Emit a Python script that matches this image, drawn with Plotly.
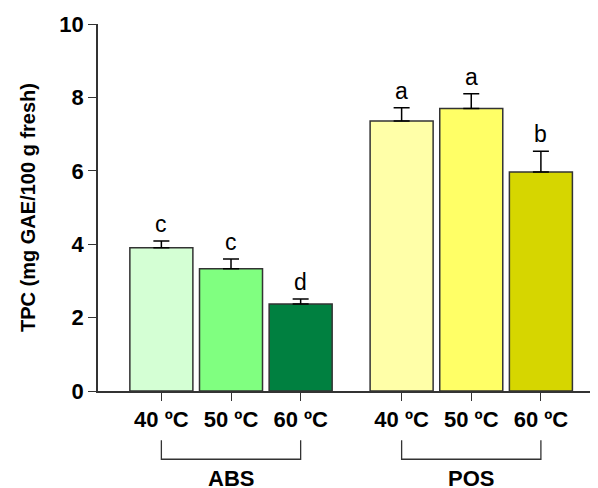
import plotly.graph_objects as go

groups = ["ABS", "POS"]
temps = ["40 ºC", "50 ºC", "60 ºC"]
abs_values = [3.90, 3.33, 2.37]
abs_errors = [0.19, 0.27, 0.14]
pos_values = [7.36, 7.70, 5.97]
pos_errors = [0.36, 0.40, 0.56]
abs_letters = ["c", "c", "d"]
pos_letters = ["a", "a", "b"]
abs_colors = ["#d4ffd4", "#80ff80", "#008040"]
pos_colors = ["#ffffa8", "#ffff66", "#d6d600"]

group_gap = 1.45
abs_x = [0, 1, 2]
pos_x = [2 + group_gap + i for i in range(3)]
xs = abs_x + pos_x
values = abs_values + pos_values
errors = abs_errors + pos_errors
letters = abs_letters + pos_letters
colors = abs_colors + pos_colors
ticktext = temps + temps

x_min, x_max = -0.91, 6.27

fig = go.Figure()
fig.add_trace(go.Bar(
    x=xs, y=values, width=0.905,
    marker=dict(color=colors, line=dict(color="#333333", width=1.5)),
    error_y=dict(type="data", array=errors, arrayminus=[0]*len(errors), symmetric=False,
                 color="black", thickness=1.5, width=8),
    showlegend=False,
))

font_main = "Liberation Sans, Arial, sans-serif"
annotations = []
for x, v, e, l in zip(xs, values, errors, letters):
    annotations.append(dict(x=x, y=v + e, xref="x", yref="y", text=l, showarrow=False,
                            yanchor="bottom", yshift=2,
                            font=dict(family=font_main, size=23, color="black")))

shapes = []
def px(xv):
    return (xv - x_min) / (x_max - x_min)

for name, gx in zip(groups, [abs_x, pos_x]):
    x0, x1 = px(gx[0]), px(gx[-1])
    y_top, y_bot = -0.134, -0.186
    shapes.append(dict(type="path", xref="paper", yref="paper",
                       path=f"M {x0} {y_top} L {x0} {y_bot} L {x1} {y_bot} L {x1} {y_top}",
                       line=dict(color="#333333", width=1.3)))
    annotations.append(dict(x=(gx[0] + gx[-1]) / 2, y=-0.2, xref="x", yref="paper",
                            text=f"<b>{name}</b>", showarrow=False, yanchor="top",
                            font=dict(family=font_main, size=22, color="black")))

fig.update_layout(
    width=590, height=480,
    margin=dict(l=90, r=0, t=16, b=97),
    paper_bgcolor="white", plot_bgcolor="white",
    annotations=annotations, shapes=shapes,
    xaxis=dict(range=[x_min, x_max], tickvals=xs, ticktext=[f"<b>{t}</b>" for t in ticktext],
               showline=True, linecolor="#333333", linewidth=1.5,
               ticks="outside", ticklen=8, tickcolor="#333333", tickwidth=1.3,
               showgrid=False, zeroline=False,
               tickfont=dict(family=font_main, size=22, color="black")),
    yaxis=dict(range=[0, 10], tickvals=[0, 2, 4, 6, 8, 10],
               ticktext=["<b>0</b>", "<b>2</b>", "<b>4</b>", "<b>6</b>", "<b>8</b>", "<b>10</b>"],
               showline=True, linecolor="#333333", linewidth=1.5,
               ticks="outside", ticklen=8, tickcolor="#333333", tickwidth=1.3,
               showgrid=False, zeroline=False,
               tickfont=dict(family=font_main, size=22, color="black"),
               title=dict(text="<b>TPC (mg GAE/100 g fresh)</b>", standoff=18,
                          font=dict(family=font_main, size=20, color="black"))),
)

fig.write_html("out.html")
